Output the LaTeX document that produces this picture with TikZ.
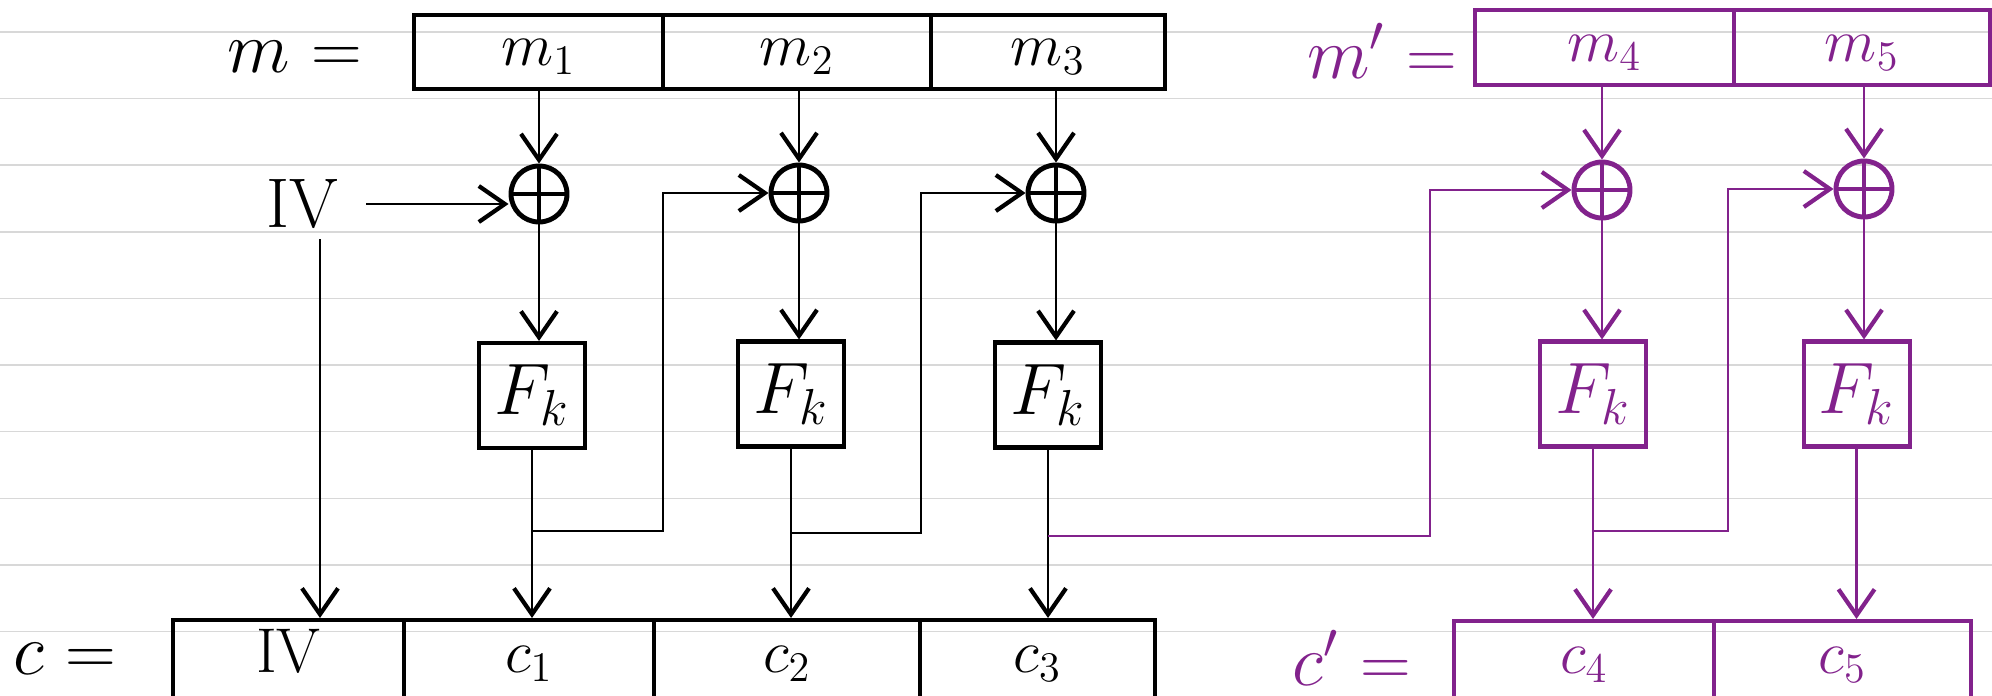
\documentclass[tikz,border=0pt]{standalone}
\usepackage{tikz}
\usepackage{amsmath}
\usepackage{xcolor}
\usetikzlibrary{arrows.meta}

\definecolor{cbcpurple}{RGB}{130,34,140}
\definecolor{ruled}{RGB}{216,216,216}

\begin{document}
\begin{tikzpicture}[
  thick,
  cell/.style={rectangle,draw,line width=1.15pt,minimum height=0.74cm,inner sep=0pt,
    text height=2.1ex,text depth=0.3ex,font=\fontsize{18}{20}\selectfont},
  prf/.style={rectangle,draw,line width=1.15pt,minimum width=1.06cm,minimum height=1.05cm,inner sep=0pt,font=\fontsize{22}{26}\selectfont},
  xor/.style={circle,draw,line width=1.4pt,minimum size=0.56cm,inner sep=0pt,
    path picture={\draw[line width=1.4pt] (path picture bounding box.north) -- (path picture bounding box.south)
      (path picture bounding box.west) -- (path picture bounding box.east);}},
  lbl/.style={inner sep=0pt,font=\fontsize{20}{24}\selectfont},
  arr/.style={-{Straight Barb[length=2.6mm,width=3.6mm,line width=1.2pt]}},
  alt/.style={cbcpurple},
  ruling/.style={draw=ruled,line width=0.4pt}
]
  \useasboundingbox (0,0) rectangle (19.92,6.95);
  \foreach \k in {0,...,9}
    \draw[ruling] (0,{6.63-0.666*\k}) -- (19.92,{6.63-0.666*\k});

  % m and m'
  \node[lbl] (mlab) at (2.950,6.380) {$m$ =};
  \node[cell,minimum width=2.49cm] (m1) at (5.385,6.430) {$m_1$};
  \node[cell,minimum width=2.68cm] (m2) at (7.970,6.430) {$m_2$};
  \node[cell,minimum width=2.34cm] (m3) at (10.480,6.430) {$m_3$};
  \node[lbl,alt] (mplab) at (13.820,6.440) {$m'$ =};
  \node[cell,alt,minimum width=2.59cm,minimum height=0.75cm] (m4) at (16.045,6.475) {$m_4$};
  \node[cell,alt,minimum width=2.56cm,minimum height=0.75cm] (m5) at (18.620,6.475) {$m_5$};

  \node[xor] (x1) at (5.390,5.010) {};
  \node[xor] (x2) at (7.990,5.020) {};
  \node[xor] (x3) at (10.560,5.020) {};
  \node[xor,alt] (x4) at (16.020,5.050) {};
  \node[xor,alt] (x5) at (18.640,5.060) {};

  \node[prf] (f1) at (5.320,2.995) {$F_k$};
  \node[prf] (f2) at (7.910,3.010) {$F_k$};
  \node[prf] (f3) at (10.480,3.000) {$F_k$};
  \node[prf,alt] (f4) at (15.930,3.010) {$F_k$};
  \node[prf,alt] (f5) at (18.565,3.010) {$F_k$};

  % c and c'
  \node[lbl] (clab) at (0.650,0.360) {$c$ =};
  \node[cell,minimum width=2.31cm,minimum height=0.78cm] (c0) at (2.885,0.360) {IV};
  \node[cell,minimum width=2.50cm,minimum height=0.78cm] (c1) at (5.290,0.360) {$c_1$};
  \node[cell,minimum width=2.66cm,minimum height=0.78cm] (c2) at (7.870,0.360) {$c_2$};
  \node[cell,minimum width=2.35cm,minimum height=0.78cm] (c3) at (10.375,0.360) {$c_3$};
  \node[lbl,alt] (cplab) at (13.520,0.370) {$c'$ =};
  \node[cell,alt,minimum width=2.60cm,minimum height=0.77cm] (c4) at (15.840,0.355) {$c_4$};
  \node[cell,alt,minimum width=2.57cm,minimum height=0.77cm] (c5) at (18.425,0.355) {$c_5$};

  \node[lbl] (iv) at (3.020,4.910) {IV};
  \coordinate (ivdrop) at (3.200,4.560);
  \coordinate (t1) at (6.630,1.640);
  \coordinate (t2) at (9.210,1.620);
  \coordinate (t3) at (14.300,1.590);
  \coordinate (t4) at (17.280,1.640);

  \draw[arr] ([xshift=2.7mm]iv.east) -- (iv.east -| x1.west);
  \draw[arr] (ivdrop) -- (ivdrop |- c0.north);

  \draw[arr] (m1.south -| x1) -- (x1.north);
  \draw[arr] (m2.south -| x2) -- (x2.north);
  \draw[arr] (m3.south -| x3) -- (x3.north);
  \draw[arr,alt] (m4.south -| x4) -- (x4.north);
  \draw[arr,alt] (m5.south -| x5) -- (x5.north);

  \draw[arr] (x1.south) -- (x1.south |- f1.north);
  \draw[arr] (x2.south) -- (x2.south |- f2.north);
  \draw[arr] (x3.south) -- (x3.south |- f3.north);
  \draw[arr,alt] (x4.south) -- (x4.south |- f4.north);
  \draw[arr,alt] (x5.south) -- (x5.south |- f5.north);

  \draw[arr] (f1.south) -- (f1.south |- c1.north);
  \draw[arr] (f2.south) -- (f2.south |- c2.north);
  \draw[arr] (f3.south) -- (f3.south |- c3.north);
  \draw[arr,alt] (f4.south) -- (f4.south |- c4.north);
  \draw[arr,alt] (f5.south) -- (f5.south |- c5.north);

  % chaining
  \draw[arr] (t1 -| f1.south) -- (t1) |- (x2.west);
  \draw[arr] (t2 -| f2.south) -- (t2) |- (x3.west);
  \draw[arr,alt] (t3 -| f3.south) -- (t3) |- (x4.west);
  \draw[arr,alt] (t4 -| f4.south) -- (t4) |- (x5.west);
\end{tikzpicture}
\end{document}
